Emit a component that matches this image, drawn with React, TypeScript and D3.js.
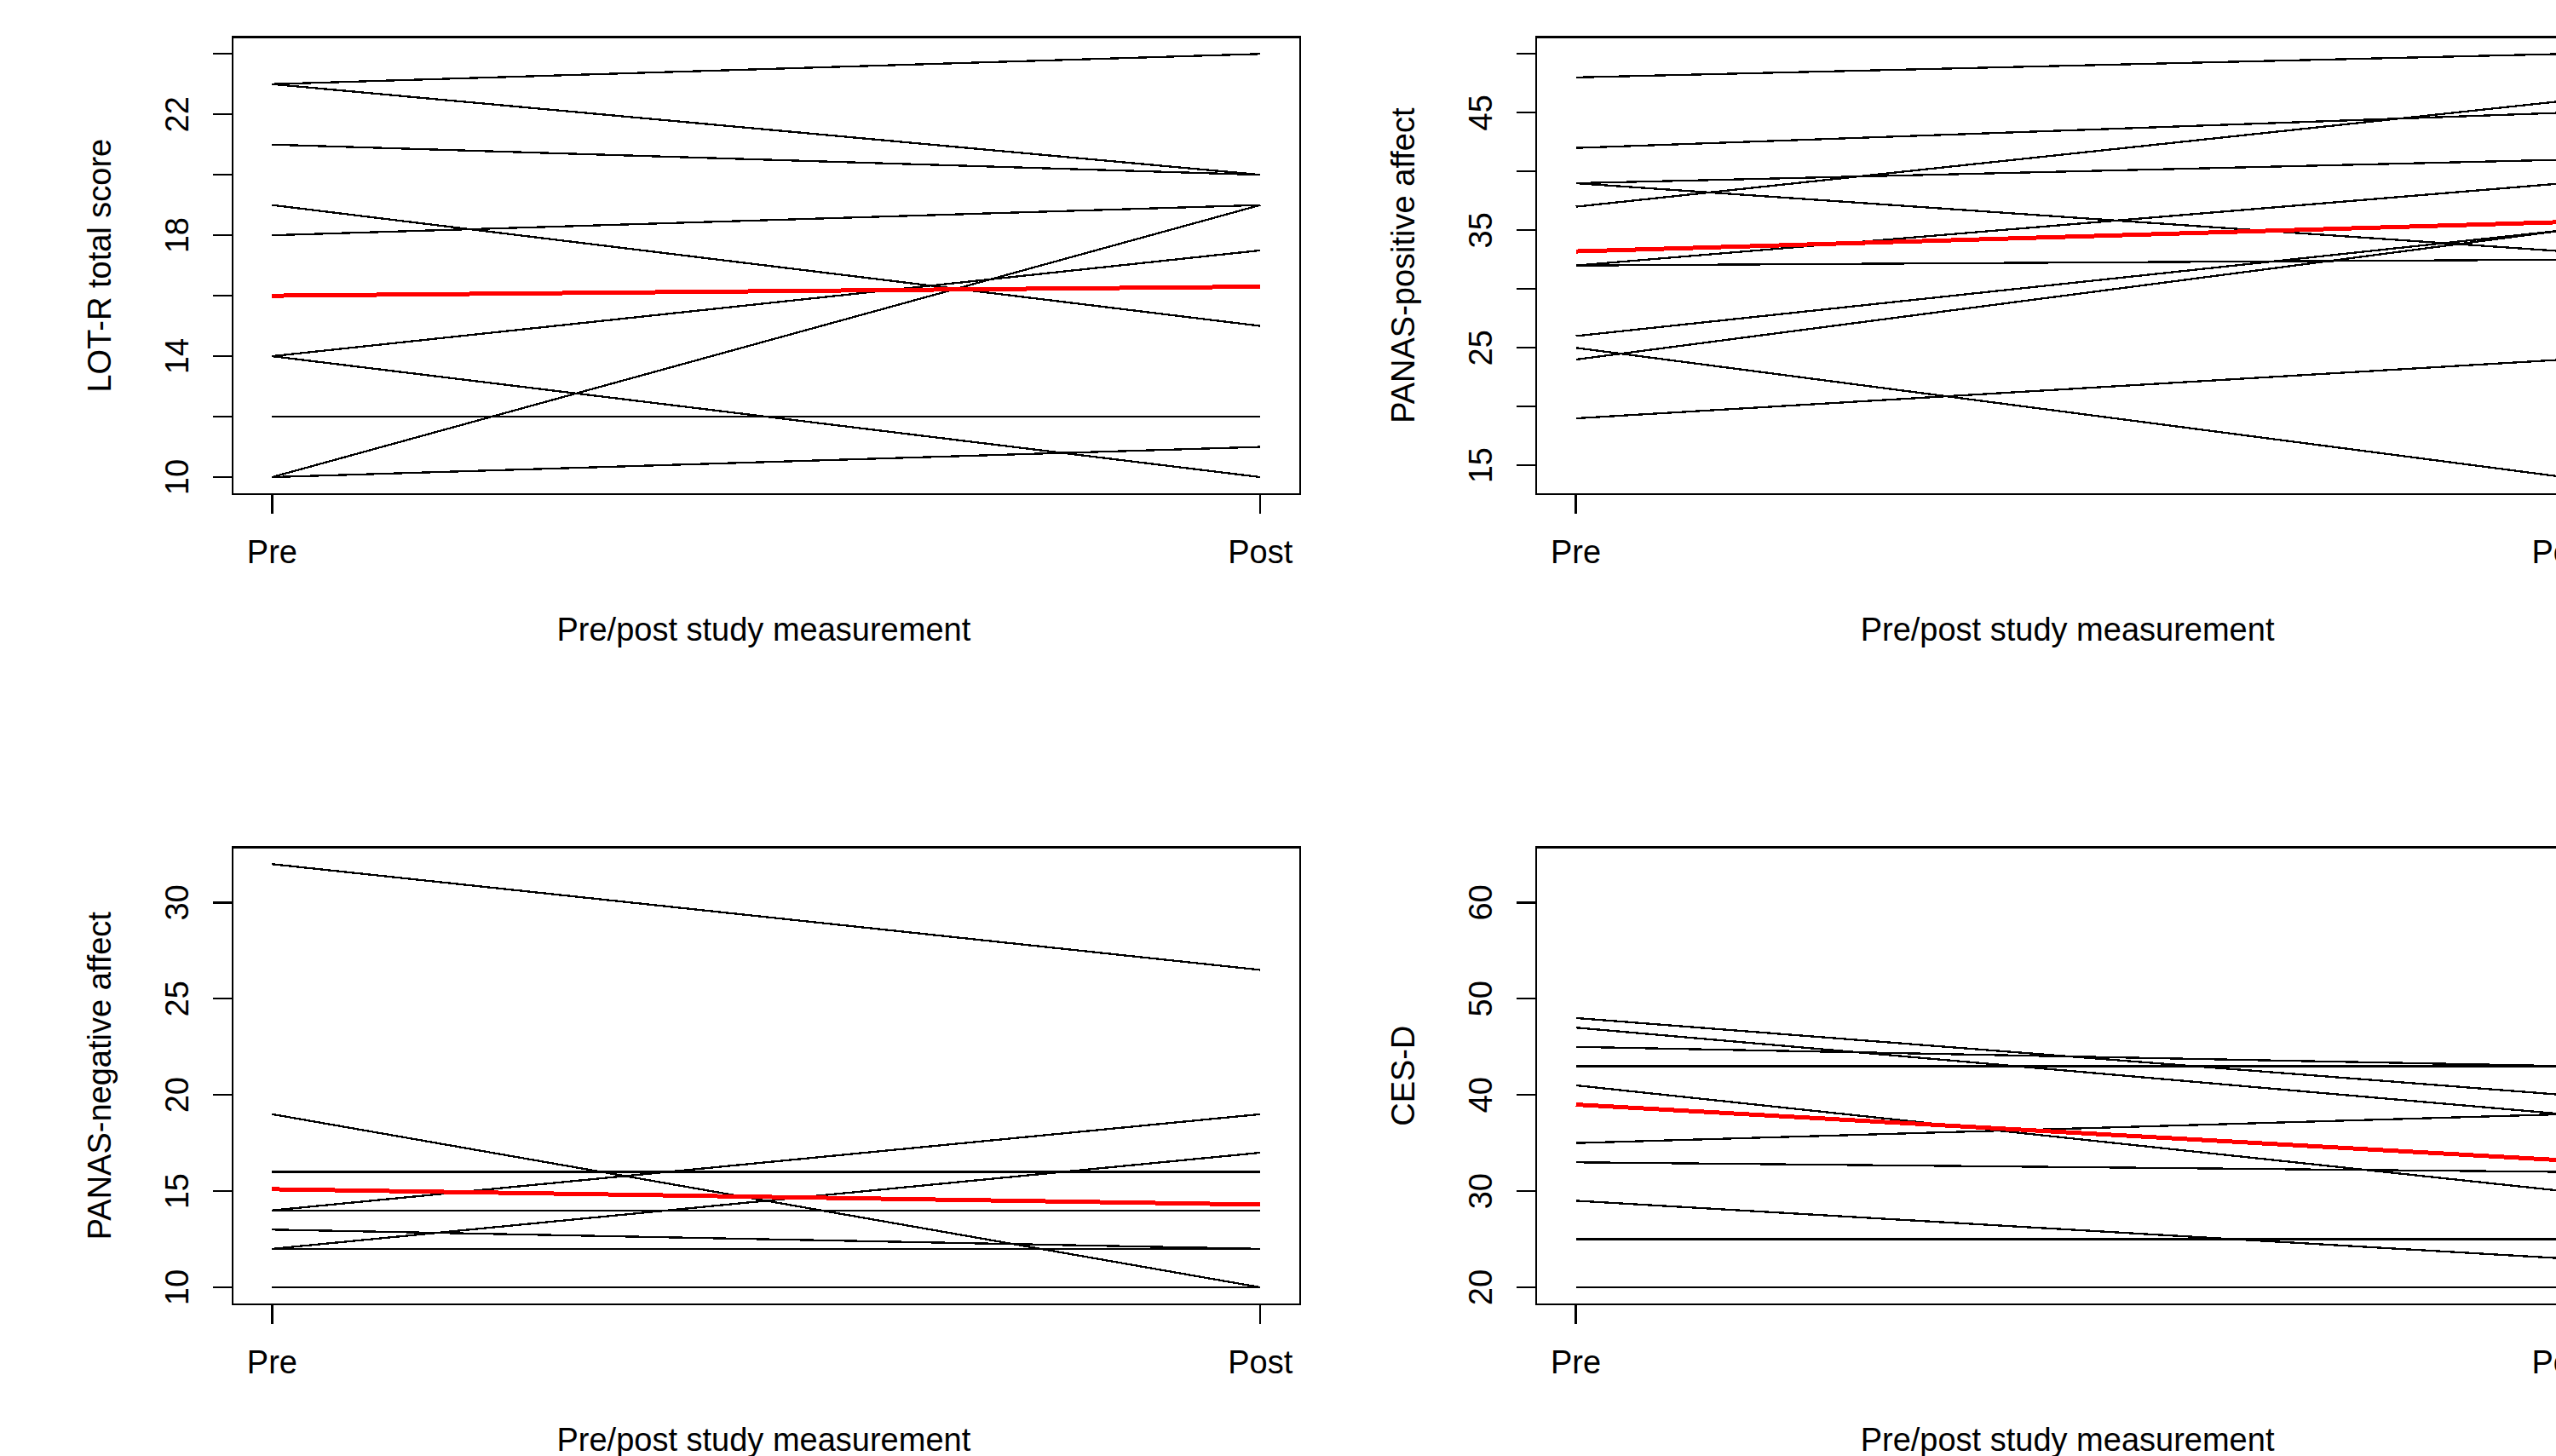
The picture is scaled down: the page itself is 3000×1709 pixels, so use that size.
import React from "react";
import * as d3 from "d3";

// ---------- data ----------
const timepoints = ["Pre", "Post"];

const lotrPre = [23, 23, 21, 19, 18, 14, 14, 12, 10, 10];
const lotrPost = [24, 20, 20, 15, 19, 17.5, 10, 12, 19, 11];
const lotrMean = [16, 16.3];
const lotrTicks = [10, 12, 14, 16, 18, 20, 22, 24];
const lotrTickLabels = [10, 14, 18, 22];
const lotrRange = [10, 24];

const posPre = [48, 42, 39, 39, 37, 32, 32, 26, 24, 25, 19];
const posPost = [50, 45, 41, 33.2, 46, 32.5, 39, 35, 35, 14, 24];
const posMean = [33.2, 35.7];
const posTicks = [15, 20, 25, 30, 35, 40, 45, 50];
const posTickLabels = [15, 25, 35, 45];
const posRange = [14, 50];

const negPre = [32, 19, 16, 14, 14, 13, 12, 12, 10];
const negPost = [26.5, 10, 16, 19, 14, 12, 17, 12, 10];
const negMean = [15.1, 14.3];
const negTicks = [10, 15, 20, 25, 30];
const negTickLabels = [10, 15, 20, 25, 30];
const negRange = [10, 32];

const cesPre = [48, 47, 45, 43, 41, 35, 33, 29, 25, 20];
const cesPost = [40, 38, 43, 43, 30, 38, 32, 23, 25, 20];
const cesMean = [39, 33.2];
const cesTicks = [20, 30, 40, 50, 60];
const cesTickLabels = [20, 30, 40, 50, 60];
const cesRange = [20, 64];

const xTitle = "Pre/post study measurement";

type PanelDef = {
  title: string;
  pre: number[];
  post: number[];
  mean: number[];
  ticks: number[];
  labels: number[];
  range: number[];
  left: number;
  top: number;
};

const PANEL_W = 1252.7;
const PANEL_H = 536.5;
const FONT = "'Liberation Sans', Arial, sans-serif";
const FS = 38;

const panels: PanelDef[] = [
  { title: "LOT-R total score", pre: lotrPre, post: lotrPost, mean: lotrMean, ticks: lotrTicks, labels: lotrTickLabels, range: lotrRange, left: 273, top: 43.4 },
  { title: "PANAS-positive affect", pre: posPre, post: posPost, mean: posMean, ticks: posTicks, labels: posTickLabels, range: posRange, left: 1803.2, top: 43.4 },
  { title: "PANAS-negative affect", pre: negPre, post: negPost, mean: negMean, ticks: negTicks, labels: negTickLabels, range: negRange, left: 273, top: 994.4 },
  { title: "CES-D", pre: cesPre, post: cesPost, mean: cesMean, ticks: cesTicks, labels: cesTickLabels, range: cesRange, left: 1803.2, top: 994.4 },
];

function Panel({ p }: { p: PanelDef }) {
  const [lo, hi] = p.range;
  const pad = (hi - lo) * 0.04;
  const bottom = p.top + PANEL_H;
  const x = d3.scaleLinear().domain([0.96, 2.04]).range([p.left, p.left + PANEL_W]);
  const y = d3.scaleLinear().domain([lo - pad, hi + pad]).range([bottom, p.top]);
  const line = d3.line<[number, number]>().x((d) => x(d[0])).y((d) => y(d[1]));
  const sw = 2.3;
  return (
    <g>
      {p.pre.map((v, i) => (
        <path key={"l" + i} d={line([[1, v], [2, p.post[i]]]) || ""} stroke="#000" strokeWidth={sw} fill="none" shapeRendering="crispEdges" />
      ))}
      <path d={line([[1, p.mean[0]], [2, p.mean[1]]]) || ""} stroke="#ff0000" strokeWidth={5} fill="none" shapeRendering="crispEdges" />
      <rect x={p.left} y={p.top} width={PANEL_W} height={PANEL_H} fill="none" stroke="#000" strokeWidth={sw} shapeRendering="crispEdges" />
      {p.ticks.map((t) => (
        <line key={"t" + t} x1={p.left - 23} x2={p.left} y1={y(t)} y2={y(t)} stroke="#000" strokeWidth={sw} shapeRendering="crispEdges" />
      ))}
      {p.labels.map((t) => (
        <text key={"tl" + t} transform={`translate(${p.left - 52},${y(t)}) rotate(-90)`} textAnchor="middle" fontFamily={FONT} fontSize={FS} fill="#000">
          {t}
        </text>
      ))}
      <text transform={`translate(${p.left - 143},${p.top + PANEL_H / 2}) rotate(-90)`} textAnchor="middle" fontFamily={FONT} fontSize={FS} fill="#000">
        {p.title}
      </text>
      {timepoints.map((lab, i) => (
        <g key={"x" + lab}>
          <line x1={x(i + 1)} x2={x(i + 1)} y1={bottom} y2={bottom + 23} stroke="#000" strokeWidth={sw} shapeRendering="crispEdges" />
          <text x={x(i + 1)} y={bottom + 81} textAnchor="middle" fontFamily={FONT} fontSize={FS} fill="#000">
            {lab}
          </text>
        </g>
      ))}
      <text x={p.left + PANEL_W / 2 - 3} y={bottom + 172} textAnchor="middle" fontFamily={FONT} fontSize={FS} fill="#000">
        {xTitle}
      </text>
    </g>
  );
}

export default function App() {
  return (
    <svg
      width={3000}
      height={1709}
      viewBox="0 0 3000 1709"
      style={{ position: "absolute", left: 0, top: 0, background: "#fff", display: "block" }}
    >
      <rect x={0} y={0} width={3000} height={1709} fill="#fff" />
      {panels.map((p, i) => (
        <Panel key={i} p={p} />
      ))}
    </svg>
  );
}
